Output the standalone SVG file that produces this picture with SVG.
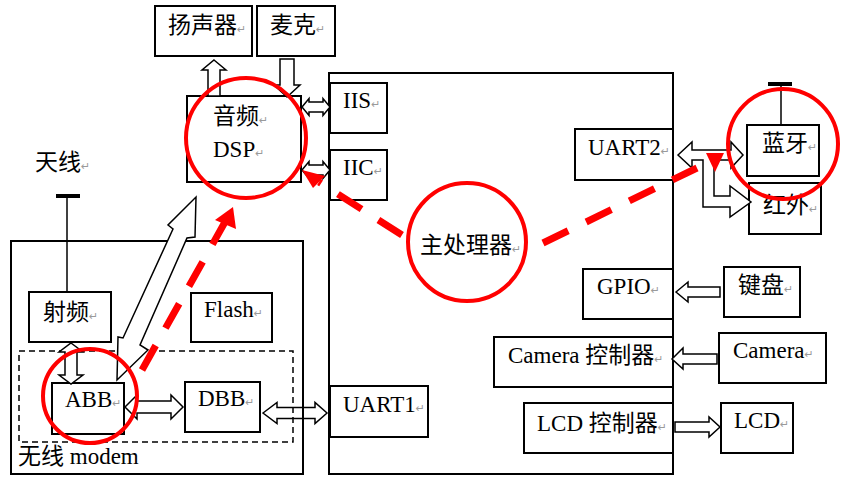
<svg xmlns="http://www.w3.org/2000/svg" width="847" height="481" viewBox="0 0 847 481">
<style>
.b{fill:none;stroke:#000;stroke-width:2}
.t{font-family:"Liberation Serif","Noto Sans CJK SC",serif;font-size:23px;fill:#000}
.m{font-family:"DejaVu Sans",sans-serif;font-size:11px;fill:#9a9a9a}
.a{fill:#fff;stroke:#000;stroke-width:1.5;stroke-linejoin:miter}
.an{fill:none;stroke:#000;stroke-width:1.5}
.rc{fill:none;stroke:#f00;stroke-width:4}
.rd{fill:none;stroke:#f00;stroke-width:7;stroke-dasharray:28 20}
.rh{fill:#f00}
</style>
<rect width="847" height="481" fill="#fff"/>
<g id="main-cpu"><rect class="b" x="329" y="73" width="344" height="401"/><text class="t" x="420" y="253">主处理器<tspan class="m">↵</tspan></text></g>
<g id="modem"><rect class="b" x="11" y="241" width="292" height="233"/><rect fill="none" stroke="#000" stroke-width="1.5" stroke-dasharray="6 4" x="19" y="351" width="274" height="91"/><text class="t" x="18" y="464">无线 modem</text></g>
<g id="speaker"><rect class="b" x="155" y="6" width="97" height="50"/><text class="t" x="168" y="33">扬声器<tspan class="m">↵</tspan></text></g>
<g id="mic"><rect class="b" x="257" y="6" width="78" height="50"/><text class="t" x="270" y="33">麦克<tspan class="m">↵</tspan></text></g>
<g id="dsp"><rect class="b" x="187" y="96" width="114" height="86"/><text class="t" x="213" y="124">音频<tspan class="m">↵</tspan></text><text class="t" x="213" y="157">DSP<tspan class="m">↵</tspan></text></g>
<g id="iis"><rect class="b" x="330" y="83" width="57" height="50"/><text class="t" x="343" y="108">IIS<tspan class="m">↵</tspan></text></g>
<g id="iic"><rect class="b" x="330" y="150" width="57" height="50"/><text class="t" x="343" y="175">IIC<tspan class="m">↵</tspan></text></g>
<g id="uart1"><rect class="b" x="330" y="386" width="98" height="51"/><text class="t" x="343" y="412">UART1<tspan class="m">↵</tspan></text></g>
<g id="uart2"><rect class="b" x="575" y="129" width="98" height="51"/><text class="t" x="588" y="155">UART2<tspan class="m">↵</tspan></text></g>
<g id="bluetooth"><rect class="b" x="747" y="125" width="72" height="51"/><line x1="781" y1="85" x2="781" y2="125" stroke="#000" stroke-width="1.5"/><rect x="768" y="82" width="24" height="4" fill="#000"/><text class="t" x="762" y="151">蓝牙<tspan class="m">↵</tspan></text></g>
<g id="infrared"><rect class="b" x="749" y="183" width="72" height="51"/><text class="t" x="763" y="213">红外<tspan class="m">↵</tspan></text></g>
<g id="gpio"><rect class="b" x="583" y="269" width="90" height="50"/><text class="t" x="597" y="294">GPIO<tspan class="m">↵</tspan></text></g>
<g id="keyboard"><rect class="b" x="724" y="267" width="76" height="50"/><text class="t" x="738" y="293">键盘<tspan class="m">↵</tspan></text></g>
<g id="camera-ctrl"><rect class="b" x="494" y="337" width="179" height="50"/><text class="t" x="508" y="363">Camera 控制器<tspan class="m">↵</tspan></text></g>
<g id="camera"><rect class="b" x="719" y="333" width="107" height="50"/><text class="t" x="733" y="358">Camera<tspan class="m">↵</tspan></text></g>
<g id="lcd-ctrl"><rect class="b" x="524" y="403" width="149" height="50"/><text class="t" x="537" y="431">LCD 控制器<tspan class="m">↵</tspan></text></g>
<g id="lcd"><rect class="b" x="721" y="403" width="72" height="50"/><text class="t" x="734" y="428">LCD<tspan class="m">↵</tspan></text></g>
<g id="antenna"><line x1="67" y1="197" x2="67" y2="292" stroke="#000" stroke-width="1.5"/><rect x="56" y="194" width="24" height="4" fill="#000"/><text class="t" x="35" y="170">天线<tspan class="m">↵</tspan></text></g>
<g id="rf"><rect class="b" x="29" y="292" width="82" height="50"/><text class="t" x="43" y="320">射频<tspan class="m">↵</tspan></text></g>
<g id="flash"><rect class="b" x="191" y="293" width="81" height="49"/><text class="t" x="204" y="317">Flash<tspan class="m">↵</tspan></text></g>
<g id="abb"><rect class="b" x="52" y="383" width="72" height="51"/><text class="t" x="65" y="407">ABB<tspan class="m">↵</tspan></text></g>
<g id="dbb"><rect class="b" x="185" y="382" width="75" height="50"/><text class="t" x="198" y="406">DBB<tspan class="m">↵</tspan></text></g>
<g id="connectors">
<polygon class="a" points="214,60 226,70 220,70 220,96 208,96 208,70 202,70"/>
<polygon class="a" points="280,59 294,59 294,85 300,85 287,97 274,85 280,85"/>
<polygon class="a" points="302,107 309,98.5 309,102 323,102 323,98.5 330,107 323,115.5 323,112 309,112 309,115.5"/>
<polygon class="a" points="302,170 309,161.5 309,165 323,165 323,161.5 330,170 323,178.5 323,175 309,175 309,178.5"/>
<polygon class="a" points="678,155 692,142 692,150 731,150 731,142 743,155 731,168 731,160 714,160 714,196 730,196 730,186 751,202 730,217 730,207 703,207 703,160 692,160 692,168"/>
<polygon class="a" points="676,292 688,282 688,287 720,287 720,297 688,297 688,302"/>
<polygon class="a" points="672,359 683,348 683,354 717,354 717,364 683,364 683,369"/>
<polygon class="a" points="675,422 709,422 709,417 720,427 709,437 709,432 675,432"/>
<polygon class="a" points="71,343 83,352 77,352 77,375 83,375 71,384 59,375 65,375 65,352 59,352"/>
<polygon class="a" points="125,407 137,395 137,401 171,401 171,395 183,407 171,419 171,413 137,413 137,419"/>
<polygon class="an" points="263,413 277,402.5 277,407.5 315,407.5 315,402.5 327,413 315,423.5 315,418.5 277,418.5 277,423.5"/>
<polygon class="a" points="196,197 195,237 187,238 140,345 148,350 117,380 118,337 123,338 173,229 168,225"/>
</g>
<g id="highlights">
<circle class="rc" cx="246" cy="138" r="60"/>
<circle class="rc" cx="90" cy="396" r="47"/>
<circle class="rc" cx="467" cy="242" r="59"/>
<circle class="rc" cx="783" cy="144" r="55"/>
<line class="rd" x1="142" y1="370" x2="225" y2="222"/>
<polygon class="rh" points="233,207 236,229 215,220"/>
<line class="rd" x1="402" y1="235" x2="319" y2="182"/>
<polygon class="rh" points="302,170 325,176 313,188"/>
<line class="rd" x1="543" y1="243" x2="697" y2="168"/>
<polygon class="rh" points="706,153 724,153 715,172"/>
</g>
</svg>
